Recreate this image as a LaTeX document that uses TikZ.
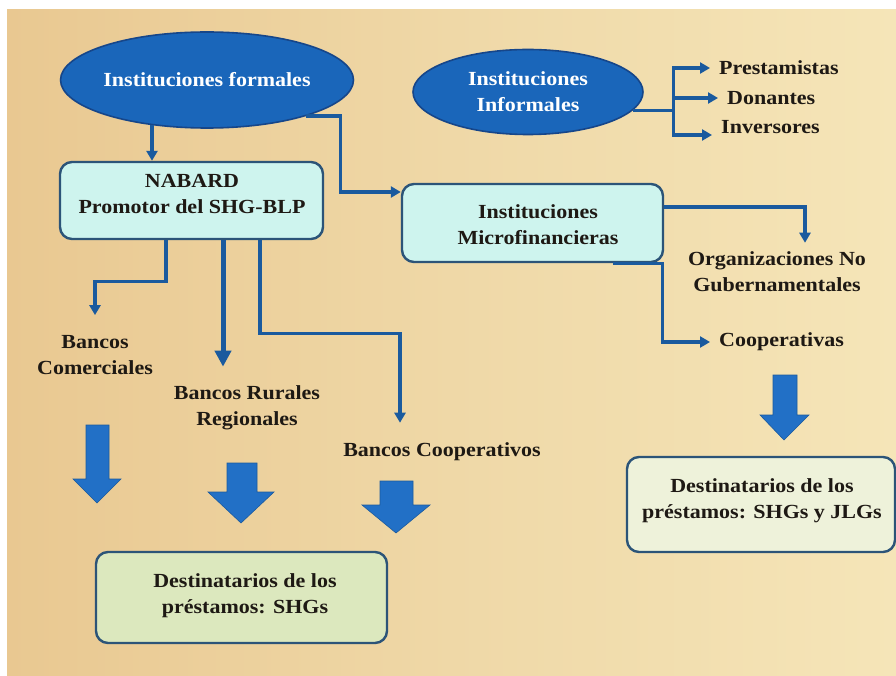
\documentclass[tikz,border=0pt]{standalone}
\usepackage{fontspec}
\setmainfont{Liberation Serif}[FakeStretch=1.1]
\usetikzlibrary{shapes.geometric,arrows.meta}
\definecolor{bgL}{RGB}{233,200,145}
\definecolor{bgM}{RGB}{239,216,167}
\definecolor{bgR}{RGB}{245,229,184}
\definecolor{ellfill}{RGB}{26,102,186}
\definecolor{ellbord}{RGB}{22,70,138}
\definecolor{linec}{RGB}{26,90,158}
\definecolor{bigarr}{RGB}{34,112,198}
\definecolor{boxbord}{RGB}{44,84,120}
\definecolor{cyanfill}{RGB}{206,244,238}
\definecolor{greenfill}{RGB}{220,232,190}
\definecolor{creamfill}{RGB}{238,242,218}
\definecolor{txt}{RGB}{30,25,20}
\newcommand\mydiagfont{\fontsize{20}{26}\selectfont\bfseries}
\begin{document}
\begin{tikzpicture}[x=1pt,y=-1pt,
  ell/.style={ellipse, draw=ellbord, line width=1.6pt, fill=ellfill, text=white,
    inner sep=0pt, align=center, font=\mydiagfont},
  rbox/.style={rectangle, rounded corners=12pt, draw=boxbord, line width=2.4pt,
    inner sep=0pt},
  boxtxt/.style={align=center, text=txt, inner sep=0pt, font=\mydiagfont},
  lbl/.style={align=center, text=txt, inner sep=0pt, font=\mydiagfont},
  conn/.style={draw=linec, line width=3.3pt, -{Triangle[length=10pt,width=11pt]}},
  seg/.style={draw=linec, line width=3.3pt},
  bigarrow/.style={fill=bigarr, draw=bigarr!80!black, line width=0.6pt}
]
\useasboundingbox (0,0) rectangle (896,676);
\fill[left color=bgL, right color=bgR, middle color=bgM] (7,10) rectangle (896,676);

% main nodes
\node[ell, minimum width=235pt, minimum height=96pt] (formales) at (207,80) {Instituciones formales};
\node[ell, minimum width=230pt, minimum height=85pt] (informales) at (528,92) {Instituciones\\Informales};
\node[rbox, fill=cyanfill, minimum width=263pt, minimum height=77pt] (nabard) at (191.5,200.5) {};
\node[boxtxt] (nabardT) at (192,194) {NABARD\\Promotor del SHG-BLP};
\node[rbox, fill=cyanfill, minimum width=261pt, minimum height=78pt] (mfi) at (532.5,223) {};
\node[boxtxt] (mfiT) at (538,225) {Instituciones\\Microfinancieras};
\node[rbox, fill=creamfill, minimum width=268pt, minimum height=95pt] (destR) at (761,504.5) {};
\node[boxtxt] (destRT) at (762,501) {Destinatarios de los\\préstamos: SHGs y JLGs};
\node[rbox, fill=greenfill, minimum width=291pt, minimum height=91pt] (destL) at (241.5,597.5) {};
\node[boxtxt] (destLT) at (245,596) {Destinatarios de los\\préstamos: SHGs};

% labels
\node[lbl, anchor=west, inner xsep=9pt] (prest) at (710,68) {Prestamistas};
\node[lbl, anchor=west, inner xsep=9pt] (don) at (718,98) {Donantes};
\node[lbl, anchor=west, inner xsep=9pt] (inv) at (712,127) {Inversores};
\node[lbl] (ong) at (777,272) {Organizaciones No\\Gubernamentales};
\node[lbl, anchor=west, inner xsep=9pt] (coop) at (710,342) {Cooperativas};
\node[lbl] (bcom) at (95,355) {Bancos\\Comerciales};
\node[lbl] (brr) at (247,408) {Bancos Rurales\\Regionales};
\node[lbl] (bcoop) at (442,452) {Bancos Cooperativos};

% connectors
\draw[conn] ([xshift=-55pt,yshift=4pt]formales.south) -- ([xshift=-39.5pt]nabard.north);
\draw[conn] (formales.-20) -| ([xshift=-60pt,yshift=31pt]mfi.west) -- ([yshift=31pt]mfi.west);

\draw[seg] (informales.-10) -- ++(41,0) coordinate (ib);
\draw[conn] (ib) |- (prest.west);
\draw[conn] (ib) |- (don.west);
\draw[conn] (ib) |- ([yshift=-8pt]inv.west);

\draw[conn, shorten >=9pt] ([yshift=16pt]mfi.east) -| ([xshift=28pt]ong.north);
\draw[conn] ([xshift=80pt]mfi.south) -- ++(50,0) |- (coop.west);

\draw[conn, shorten >=20pt] ([xshift=-25.5pt]nabard.south) -- ++(0,41) -| (bcom.north);
\draw[conn, line width=5pt, -{Triangle[length=16pt,width=16pt]}, shorten >=19pt]
  ([xshift=31.5pt]nabard.south) -- ([xshift=-24pt]brr.north);
\draw[conn, shorten >=20pt] ([xshift=68.5pt]nabard.south) -- ++(0,93) -| ([xshift=-42pt]bcoop.north);

% block arrows
\filldraw[bigarrow] (86,425) -- (109,425) -- (109,479) -- (121,479) -- (97,503) -- (73,479) -- (86,479) -- cycle;
\filldraw[bigarrow] (227,463) -- (257,463) -- (257,492) -- (274,492) -- (241,523) -- (208,492) -- (227,492) -- cycle;
\filldraw[bigarrow] (380,481) -- (413,481) -- (413,505) -- (430,505) -- (396,533) -- (362,505) -- (380,505) -- cycle;
\filldraw[bigarrow] (773,375) -- (797,375) -- (797,415) -- (809,415) -- (784,440) -- (760,415) -- (773,415) -- cycle;
\end{tikzpicture}
\end{document}
